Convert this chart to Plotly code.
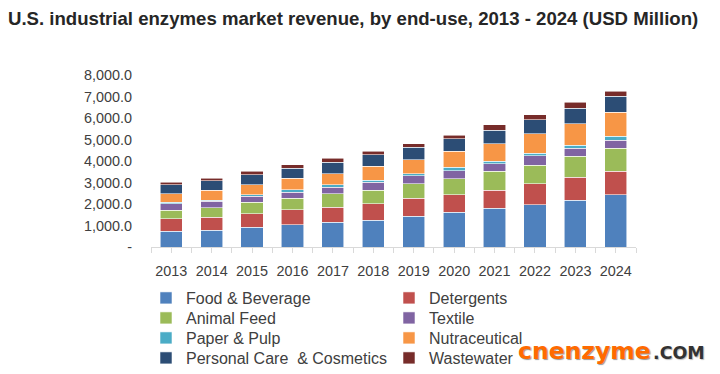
import plotly.graph_objects as go

years = [2013, 2014, 2015, 2016, 2017, 2018, 2019, 2020, 2021, 2022, 2023, 2024]
year_labels = [str(y) for y in years]

food_beverage = [744, 790, 930, 1037, 1148, 1256, 1442, 1614, 1800, 1967, 2186, 2432]
detergents = [572, 591, 619, 697, 698, 757, 823, 818, 851, 976, 1055, 1102]
animal_feed = [404, 446, 528, 531, 632, 638, 678, 744, 883, 870, 991, 1056]
textile = [293, 312, 295, 293, 298, 358, 372, 372, 339, 432, 358, 386]
paper_pulp = [65, 46, 61, 106, 121, 107, 93, 158, 126, 112, 153, 172]
nutraceutical = [400, 465, 464, 531, 511, 651, 651, 758, 804, 911, 990, 1116]
personal_care = [419, 433, 465, 465, 531, 525, 591, 572, 638, 651, 717, 758]
wastewater = [111, 112, 172, 167, 186, 172, 153, 172, 246, 233, 279, 232]

series_names = ["Food & Beverage", "Detergents", "Animal Feed", "Textile",
                "Paper & Pulp", "Nutraceutical", "Personal Care  & Cosmetics", "Wastewater"]
series_values = [food_beverage, detergents, animal_feed, textile,
                 paper_pulp, nutraceutical, personal_care, wastewater]
series_colors = ["#4F81BD", "#C0504D", "#9BBB59", "#8064A2",
                 "#4BACC6", "#F79646", "#2C4D75", "#772C2A"]

y_tick_values = [0, 1000, 2000, 3000, 4000, 5000, 6000, 7000, 8000]
y_tick_labels = ["-" if v == 0 else f"{v:,.1f}" for v in y_tick_values]

title_text = "U.S. industrial enzymes market revenue, by end-use, 2013 - 2024 (USD Million)"

# The page body has an 8px margin, so the figure is placed at (8, 8) in the window.
OFF = 8
FW, FH = 720 - OFF, 374 - OFF
# target plot area in window pixels
PLOT_L, PLOT_R, PLOT_T, PLOT_B = 151, 636, 75, 247
L, R = PLOT_L - OFF, FW - (PLOT_R - OFF)
T, B = PLOT_T - OFF, FH - (PLOT_B - OFF)
PW, PH = PLOT_R - PLOT_L, PLOT_B - PLOT_T


def px2x(px):  # window px -> paper x
    return (px - PLOT_L) / PW


def py2y(py):  # window py -> paper y
    return (PLOT_B - py) / PH


def cx(px):  # window px -> container x
    return (px - OFF) / FW


def cy(py):  # window py -> container y
    return 1 - (py - OFF) / FH


font_family = "Liberation Sans, Arial, sans-serif"
legend_font = dict(family=font_family, size=16, color="#404040")

# legend laid out as 4 rows of 2 entries (one legend per row)
legend_ids = ["legend", "legend2", "legend3", "legend4"]
LEG_X = 146
LEG_TOP0 = 281
LEG_ROW = 20

fig = go.Figure()
for i, (name, vals, col) in enumerate(zip(series_names, series_values, series_colors)):
    fig.add_trace(go.Bar(
        x=years, y=vals, name=name, legend=legend_ids[i // 2],
        marker=dict(color=col, line=dict(color="rgba(255,255,255,0.7)", width=0.8)),
    ))

layout_legends = {}
for r, lid in enumerate(legend_ids):
    layout_legends[lid] = dict(
        orientation="h", traceorder="normal",
        xref="container", yref="container",
        x=cx(LEG_X), xanchor="left",
        y=cy(LEG_TOP0 + r * LEG_ROW), yanchor="top",
        entrywidth=198, entrywidthmode="pixels",
        font=legend_font, bgcolor="rgba(0,0,0,0)", borderwidth=0,
        itemclick=False, itemdoubleclick=False,
    )

fig.update_layout(
    width=FW, height=FH,
    barmode="stack",
    bargap=0.45,
    plot_bgcolor="white", paper_bgcolor="white",
    margin=dict(l=L, r=R, t=T, b=B, pad=0, autoexpand=False),
    title=dict(text="<b>" + title_text + "</b>", x=cx(8), xanchor="left",
               y=cy(18), yanchor="middle", xref="container", yref="container",
               font=dict(family=font_family, size=18.6, color="#262626")),
    font=dict(family=font_family, size=14, color="#404040"),
    showlegend=True,
    xaxis=dict(
        range=[2012.5, 2024.5], tickmode="array", tickvals=years, ticktext=year_labels,
        showline=True, linecolor="#D9D9D9", linewidth=1, showgrid=False, zeroline=False,
        ticks="outside", ticklen=5, tickcolor="#D9D9D9", tickwidth=1,
        minor=dict(ticks="outside", ticklen=5, tickcolor="#D9D9D9", tickwidth=1,
                   tick0=2012.5, dtick=1, showgrid=False),
        tickfont=dict(family=font_family, size=14.4, color="#404040"),
        ticklabelstandoff=6,
    ),
    yaxis=dict(
        range=[0, 8000], tickmode="array", tickvals=y_tick_values, ticktext=y_tick_labels,
        showline=False, showgrid=False, zeroline=False, ticks="",
        tickfont=dict(family=font_family, size=14.4, color="#404040"),
        ticklabelstandoff=18,
    ),
    **layout_legends,
)

fig.add_annotation(text="<b>cnenzyme</b>", xref="paper", yref="paper",
                   x=px2x(516), y=py2y(351), xanchor="left", yanchor="middle",
                   showarrow=False,
                   font=dict(family="DejaVu Sans, sans-serif", size=23.5, color="#FF6A00",
                             shadow="1px 1px 1px #999, -1px -1px 0 #fff"))
fig.add_annotation(text="<b>.COM</b>", xref="paper", yref="paper",
                   x=px2x(651), y=py2y(353), xanchor="left", yanchor="middle",
                   showarrow=False,
                   font=dict(family="DejaVu Sans, sans-serif", size=17.5, color="#333333",
                             shadow="1px 1px 1px #bbb"))

fig.write_html("out.html")
